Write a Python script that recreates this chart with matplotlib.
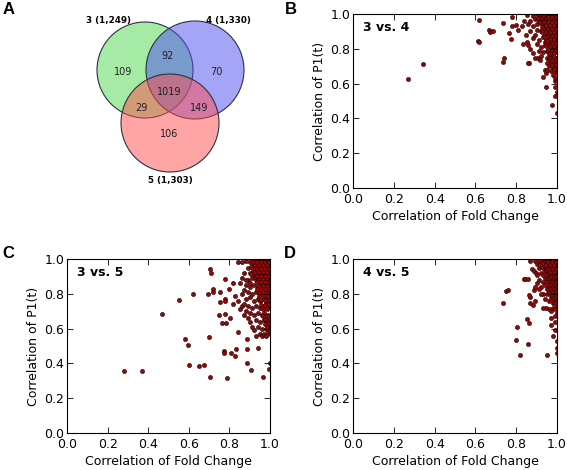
import numpy as np
from matplotlib import pyplot as plt
from matplotlib.patches import Circle

# Venn diagram (panel A)
set_labels = ["3 (1,249)", "4 (1,330)", "5 (1,303)"]
region_labels = ["109", "92", "70", "1019", "29", "149", "106"]

# Scatter data: (correlation of fold change, correlation of P1(t))
pts_34 = [
    (0.27, 0.625), (0.345, 0.71), (0.618, 0.966), (0.613, 0.845), (0.62, 0.84),
    (0.667, 0.908), (0.67, 0.895), (0.686, 0.90), (0.735, 0.948), (0.78, 0.98),
    (0.78, 0.93), (0.80, 0.935), (0.83, 0.93), (0.765, 0.89), (0.775, 0.855),
    (0.74, 0.745), (0.735, 0.725), (0.853, 0.995), (0.835, 0.83), (0.855, 0.84),
    (0.865, 0.72), (0.88, 0.775), (0.905, 0.745), (0.915, 0.735), (0.94, 0.68),
    (0.945, 0.66), (0.93, 0.64), (0.945, 0.58), (0.99, 0.615), (0.99, 0.53),
    (0.975, 0.477), (1.0, 0.43), (0.84, 0.96), (0.86, 0.94), (0.81, 0.91),
    (0.88, 0.99), (0.90, 1.0), (0.92, 1.0), (0.94, 1.0), (0.95, 0.99), (0.96, 1.0),
    (0.97, 0.99), (0.98, 1.0), (0.99, 0.99), (1.0, 1.0), (0.89, 0.97), (0.91, 0.98),
    (0.93, 0.98), (0.95, 0.97), (0.96, 0.98), (0.97, 0.97), (0.98, 0.98), (0.99, 0.97),
    (0.87, 0.96), (0.92, 0.96), (0.94, 0.95), (0.96, 0.96), (0.97, 0.95), (0.98, 0.96),
    (0.99, 0.95), (1.0, 0.96), (0.88, 0.93), (0.90, 0.94), (0.93, 0.93), (0.95, 0.94),
    (0.96, 0.93), (0.97, 0.92), (0.98, 0.94), (0.99, 0.93), (1.0, 0.94), (0.87, 0.90),
    (0.90, 0.91), (0.92, 0.90), (0.94, 0.91), (0.96, 0.90), (0.97, 0.89), (0.98, 0.91),
    (0.99, 0.90), (1.0, 0.91), (0.85, 0.88), (0.89, 0.88), (0.93, 0.87), (0.95, 0.88),
    (0.96, 0.86), (0.97, 0.87), (0.98, 0.88), (0.99, 0.87), (1.0, 0.88), (0.88, 0.86),
    (0.91, 0.85), (0.94, 0.84), (0.95, 0.85), (0.97, 0.84), (0.98, 0.85), (0.99, 0.84),
    (1.0, 0.85), (0.86, 0.82), (0.90, 0.83), (0.92, 0.81), (0.94, 0.82), (0.96, 0.82),
    (0.97, 0.81), (0.98, 0.82), (0.99, 0.81), (1.0, 0.82), (0.87, 0.80), (0.91, 0.79),
    (0.93, 0.78), (0.95, 0.79), (0.96, 0.77), (0.97, 0.79), (0.98, 0.78), (0.99, 0.79),
    (1.0, 0.78), (0.89, 0.75), (0.92, 0.76), (0.95, 0.75), (0.96, 0.74), (0.97, 0.76),
    (0.98, 0.74), (0.99, 0.75), (1.0, 0.74), (0.86, 0.72), (0.95, 0.72), (0.97, 0.72),
    (0.98, 0.71), (0.99, 0.72), (0.96, 0.70), (0.98, 0.69), (0.99, 0.70), (1.0, 0.70),
    (0.95, 0.68), (0.97, 0.67), (0.99, 0.67), (0.98, 0.65), (1.0, 0.66), (0.99, 0.63),
    (1.0, 0.62), (0.99, 0.58), (1.0, 0.55), (0.94, 0.97), (0.93, 0.99), (0.91, 0.96),
    # dense core
    (0.915, 0.99), (0.925, 0.975), (0.935, 0.99), (0.945, 0.975), (0.955, 0.985),
    (0.965, 0.965), (0.975, 0.985), (0.985, 0.965), (0.995, 0.985), (0.925, 0.945),
    (0.935, 0.955), (0.945, 0.935), (0.955, 0.955), (0.965, 0.935), (0.975, 0.955),
    (0.985, 0.935), (0.995, 0.955), (0.935, 0.915), (0.945, 0.895), (0.955, 0.915),
    (0.965, 0.895), (0.975, 0.915), (0.985, 0.895), (0.995, 0.915), (0.935, 0.875),
    (0.945, 0.855), (0.955, 0.875), (0.965, 0.855), (0.975, 0.875), (0.985, 0.855),
    (0.995, 0.875), (0.945, 0.815), (0.955, 0.835), (0.965, 0.815), (0.975, 0.835),
    (0.985, 0.815), (0.995, 0.835), (0.955, 0.795), (0.965, 0.775), (0.975, 0.795),
    (0.985, 0.775), (0.995, 0.795), (0.965, 0.745), (0.975, 0.735), (0.985, 0.755),
    (0.995, 0.735), (0.975, 0.705), (0.985, 0.685), (0.995, 0.705), (0.925, 0.925),
    (0.915, 0.955), (0.905, 0.975), (0.925, 0.895), (0.94, 0.865), (0.95, 0.845),
]

pts_35 = [
    (0.279, 0.355), (0.367, 0.357), (0.47, 0.683), (0.552, 0.764), (0.579, 0.539),
    (0.595, 0.503), (0.603, 0.39), (0.62, 0.80), (0.649, 0.384), (0.677, 0.392),
    (0.698, 0.553), (0.702, 0.322), (0.705, 0.94), (0.707, 0.917), (0.693, 0.80),
    (0.72, 0.83), (0.72, 0.81), (0.754, 0.812), (0.754, 0.754), (0.748, 0.678),
    (0.764, 0.633), (0.78, 0.885), (0.78, 0.77), (0.78, 0.756), (0.78, 0.683),
    (0.785, 0.63), (0.775, 0.472), (0.775, 0.457), (0.787, 0.317), (0.805, 0.66),
    (0.81, 0.457), (0.828, 0.44), (0.84, 0.58), (0.833, 0.482), (0.885, 0.482),
    (0.887, 0.543), (0.887, 0.40), (0.908, 0.363), (0.94, 0.49), (0.967, 0.322),
    (0.997, 0.365), (1.0, 0.405), (0.84, 0.98), (0.86, 0.98), (0.80, 0.83),
    (0.82, 0.86), (0.83, 0.79), (0.85, 0.86), (0.86, 0.80), (0.82, 0.74), (0.84, 0.76),
    (0.85, 0.71), (0.86, 0.73), (0.87, 0.68), (0.88, 0.70), (0.89, 0.66), (0.90, 0.64),
    (0.91, 0.61), (0.92, 0.59), (0.93, 0.56), (0.95, 0.57), (0.96, 0.56), (0.97, 0.57),
    (0.98, 0.56), (0.99, 0.58), (1.0, 0.57), (0.88, 0.99), (0.90, 0.98), (0.91, 1.0),
    (0.92, 0.98), (0.93, 1.0), (0.94, 0.99), (0.95, 0.98), (0.96, 1.0), (0.97, 0.99),
    (0.98, 0.98), (0.99, 1.0), (1.0, 0.99), (0.89, 0.95), (0.91, 0.96), (0.92, 0.94),
    (0.93, 0.96), (0.95, 0.95), (0.96, 0.96), (0.97, 0.94), (0.98, 0.96), (0.99, 0.95),
    (1.0, 0.96), (0.87, 0.92), (0.90, 0.92), (0.92, 0.91), (0.94, 0.92), (0.95, 0.91),
    (0.96, 0.93), (0.97, 0.91), (0.98, 0.92), (0.99, 0.91), (1.0, 0.93), (0.86, 0.89),
    (0.89, 0.88), (0.91, 0.89), (0.93, 0.88), (0.95, 0.88), (0.96, 0.89), (0.97, 0.87),
    (0.98, 0.89), (0.99, 0.88), (1.0, 0.89), (0.88, 0.85), (0.90, 0.84), (0.92, 0.85),
    (0.94, 0.84), (0.95, 0.85), (0.97, 0.84), (0.98, 0.85), (0.99, 0.84), (1.0, 0.85),
    (0.87, 0.82), (0.89, 0.81), (0.91, 0.80), (0.93, 0.81), (0.95, 0.82), (0.96, 0.80),
    (0.98, 0.81), (0.99, 0.80), (1.0, 0.81), (0.88, 0.77), (0.90, 0.78), (0.92, 0.76),
    (0.94, 0.77), (0.95, 0.76), (0.97, 0.77), (0.98, 0.75), (0.99, 0.77), (1.0, 0.76),
    (0.87, 0.74), (0.89, 0.73), (0.91, 0.72), (0.93, 0.73), (0.95, 0.72), (0.96, 0.73),
    (0.98, 0.72), (0.99, 0.73), (1.0, 0.72), (0.90, 0.69), (0.92, 0.68), (0.94, 0.69),
    (0.96, 0.68), (0.97, 0.69), (0.99, 0.68), (1.0, 0.67), (0.93, 0.65), (0.95, 0.64),
    (0.97, 0.65), (0.98, 0.63), (0.99, 0.64), (1.0, 0.62), (0.94, 0.61), (0.96, 0.60),
    (0.98, 0.60), (0.99, 0.61), (1.0, 0.59), (0.88, 0.88), (0.90, 0.86), (0.93, 0.90),
    # dense core
    (0.915, 0.985), (0.925, 0.965), (0.935, 0.985), (0.945, 0.965), (0.955, 0.985),
    (0.965, 0.965), (0.975, 0.985), (0.985, 0.965), (0.995, 0.985), (0.915, 0.935),
    (0.925, 0.925), (0.935, 0.945), (0.945, 0.925), (0.955, 0.945), (0.965, 0.925),
    (0.975, 0.945), (0.985, 0.925), (0.995, 0.945), (0.925, 0.895), (0.935, 0.905),
    (0.945, 0.885), (0.955, 0.905), (0.965, 0.885), (0.975, 0.905), (0.985, 0.885),
    (0.995, 0.905), (0.935, 0.865), (0.945, 0.845), (0.955, 0.865), (0.965, 0.845),
    (0.975, 0.865), (0.985, 0.845), (0.995, 0.865), (0.935, 0.825), (0.945, 0.805),
    (0.955, 0.825), (0.965, 0.805), (0.975, 0.825), (0.985, 0.805), (0.995, 0.825),
    (0.945, 0.785), (0.955, 0.765), (0.965, 0.785), (0.975, 0.765), (0.985, 0.785),
    (0.995, 0.765), (0.955, 0.735), (0.965, 0.715), (0.975, 0.735), (0.985, 0.715),
    (0.995, 0.735), (0.965, 0.675), (0.975, 0.655), (0.985, 0.675), (0.995, 0.655),
    (0.975, 0.625), (0.985, 0.61), (0.995, 0.625), (0.905, 0.955), (0.905, 0.915),
]

pts_45 = [
    (0.734, 0.75), (0.751, 0.816), (0.761, 0.82), (0.803, 0.607), (0.80, 0.534),
    (0.82, 0.447), (0.857, 0.514), (0.852, 0.658), (0.861, 0.63), (0.836, 0.883),
    (0.87, 0.78), (0.865, 0.795), (0.885, 0.82), (0.89, 0.76), (0.88, 0.735),
    (0.95, 0.447), (0.945, 0.716), (0.845, 0.885), (0.86, 0.885), (0.87, 0.99),
    (0.89, 0.99), (0.877, 0.94), (0.885, 0.93), (0.895, 0.92), (0.87, 0.75),
    (0.93, 0.72), (0.96, 0.71), (0.97, 0.70), (0.97, 0.66), (0.97, 0.62),
    (0.98, 0.56), (0.99, 0.59), (1.0, 0.53), (1.0, 0.49), (1.0, 0.46), (0.99, 0.64),
    (0.90, 0.97), (0.91, 0.99), (0.92, 1.0), (0.93, 0.98), (0.94, 1.0), (0.95, 0.99),
    (0.96, 1.0), (0.97, 0.98), (0.98, 1.0), (0.99, 0.99), (1.0, 1.0), (0.91, 0.95),
    (0.92, 0.96), (0.93, 0.95), (0.94, 0.96), (0.95, 0.95), (0.96, 0.97), (0.97, 0.95),
    (0.98, 0.96), (0.99, 0.95), (1.0, 0.96), (0.90, 0.91), (0.92, 0.92), (0.93, 0.91),
    (0.94, 0.93), (0.95, 0.92), (0.96, 0.91), (0.97, 0.93), (0.98, 0.92), (0.99, 0.91),
    (1.0, 0.93), (0.91, 0.88), (0.93, 0.87), (0.94, 0.89), (0.95, 0.88), (0.96, 0.87),
    (0.97, 0.89), (0.98, 0.88), (0.99, 0.87), (1.0, 0.89), (0.92, 0.84), (0.94, 0.85),
    (0.95, 0.83), (0.96, 0.84), (0.97, 0.85), (0.98, 0.83), (0.99, 0.84), (1.0, 0.85),
    (0.93, 0.80), (0.95, 0.80), (0.96, 0.81), (0.97, 0.79), (0.98, 0.80), (0.99, 0.79),
    (1.0, 0.81), (0.94, 0.77), (0.96, 0.76), (0.97, 0.77), (0.98, 0.75), (0.99, 0.76),
    (1.0, 0.77), (0.98, 0.72), (0.99, 0.71), (1.0, 0.73), (1.0, 0.69), (0.99, 0.67),
    (0.90, 0.86), (0.91, 0.83), (0.89, 0.84), (0.92, 0.80),
    # dense core
    (0.935, 0.985), (0.945, 0.965), (0.955, 0.985), (0.965, 0.965), (0.975, 0.985),
    (0.985, 0.965), (0.995, 0.985), (0.945, 0.935), (0.955, 0.945), (0.965, 0.925),
    (0.975, 0.945), (0.985, 0.925), (0.995, 0.945), (0.955, 0.905), (0.965, 0.895),
    (0.975, 0.905), (0.985, 0.895), (0.995, 0.905), (0.955, 0.865), (0.965, 0.855),
    (0.975, 0.865), (0.985, 0.855), (0.995, 0.865), (0.965, 0.825), (0.975, 0.815),
    (0.985, 0.825), (0.995, 0.815), (0.975, 0.785), (0.985, 0.775), (0.995, 0.785),
    (0.985, 0.745), (0.995, 0.745), (0.925, 0.975), (0.915, 0.965),
]

panels = [("B", "3 vs. 4", pts_34), ("C", "3 vs. 5", pts_35), ("D", "4 vs. 5", pts_45)]

W, H = 567, 470
fig = plt.figure(figsize=(W / 100, H / 100), dpi=100)

# pixel-coordinate overlay for the venn and the panel letters
ov = fig.add_axes([0, 0, 1, 1])
ov.set_xlim(0, W)
ov.set_ylim(H, 0)
ov.axis("off")

circles = [((145, 70), 48, (0.3, 0.85, 0.3)),
           ((195, 70), 49, (0.3, 0.3, 0.95)),
           ((170, 123), 49, (1.0, 0.3, 0.3))]
for (cx, cy), r, col in circles:
    ov.add_patch(Circle((cx, cy), r, facecolor=col, alpha=0.5, edgecolor="none"))
    ov.add_patch(Circle((cx, cy), r, facecolor="none", edgecolor="#303040", lw=0.8))

set_pos = [(109, 20), (228, 20), (170, 181)]
for (x, y), lab in zip(set_pos, set_labels):
    ov.text(x, y, lab, fontsize=6.3, fontweight="bold", ha="center", va="center")

region_pos = [(123, 72), (168, 56), (216, 72), (169, 92), (141, 108), (199, 108), (169, 134)]
for (x, y), lab in zip(region_pos, region_labels):
    ov.text(x, y, lab, fontsize=7, ha="center", va="center", color="#202020")

letter_pos = {"A": (9, 10), "B": (291, 9), "C": (8, 253), "D": (290, 253)}
for k, (x, y) in letter_pos.items():
    ov.text(x, y, k, fontsize=12, fontweight="bold", family="Liberation Sans",
            ha="center", va="center")

ax_rects = {"B": [353 / W, 1 - 188 / H, 204 / W, 174 / H],
            "C": [67 / W, 1 - 433 / H, 203 / W, 174 / H],
            "D": [353 / W, 1 - 433 / H, 204 / W, 174 / H]}

ticks = [0.0, 0.2, 0.4, 0.6, 0.8, 1.0]
for key, title, pts in panels:
    ax = fig.add_axes(ax_rects[key])
    xy = np.array(pts).T
    ax.scatter(xy[0], xy[1], s=9, c="#8b0a0a", edgecolors="#2a0000", linewidths=0.4)
    ax.set_xlim(0, 1)
    ax.set_ylim(0, 1)
    ax.set_xticks(ticks)
    ax.set_yticks(ticks)
    ax.set_xticklabels([f"{t:.1f}" for t in ticks])
    ax.set_yticklabels([f"{t:.1f}" for t in ticks])
    ax.tick_params(direction="in", top=True, right=True, length=4, width=0.6,
                   labelsize=9)
    ax.tick_params(axis="x", pad=3.5)
    ax.tick_params(axis="y", pad=2)
    for s in ax.spines.values():
        s.set_linewidth(0.8)
    ax.set_xlabel("Correlation of Fold Change", fontsize=9, labelpad=3)
    ax.set_ylabel("Correlation of P1(t)", fontsize=9, labelpad=3)
    ax.text(0.05, 0.92, title, transform=ax.transAxes, fontsize=9,
            fontweight="bold", va="center", ha="left")

fig.savefig("out.png", dpi=100)
